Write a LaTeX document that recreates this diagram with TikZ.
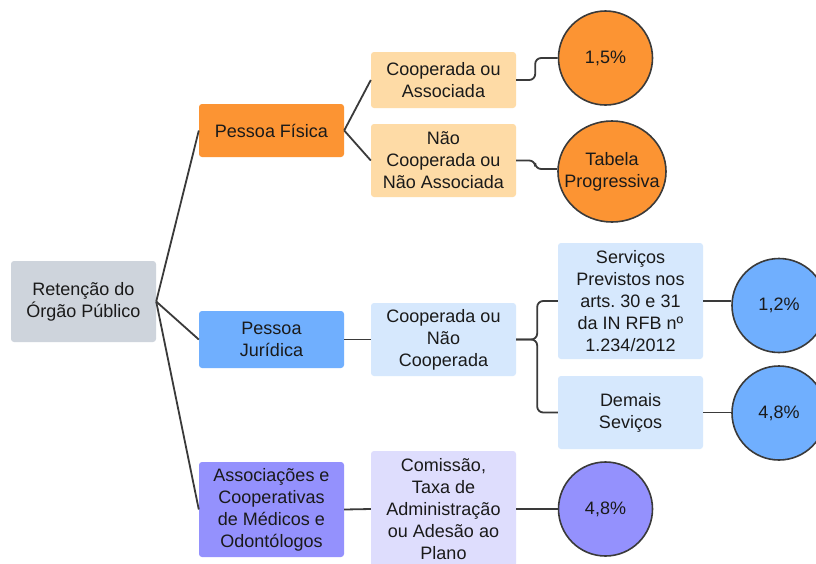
\documentclass[tikz,border=0pt]{standalone}
\usepackage{fontspec}
\setmainfont{Liberation Sans}
\usetikzlibrary{shapes.geometric}
\frenchspacing
\definecolor{cgray}{HTML}{CED4DC}
\definecolor{corange}{HTML}{FC9433}
\definecolor{clorange}{HTML}{FEDBA6}
\definecolor{cblue}{HTML}{70AFFE}
\definecolor{clblue}{HTML}{D6E8FD}
\definecolor{cpurple}{HTML}{9491FD}
\definecolor{clpurple}{HTML}{DEDDFD}
\definecolor{cline}{HTML}{3A3A3A}
\definecolor{ctext}{HTML}{1A1A1A}
\tikzset{
  box/.style={rectangle, rounded corners=3pt, minimum width=145pt, inner sep=0pt, align=center, text=ctext, font=\fontsize{18}{22}\selectfont},
  bubble/.style={circle, draw=cline, line width=1.6pt, minimum size=94pt, inner sep=0pt, align=center, text=ctext, font=\fontsize{18}{22}\selectfont},
  oval/.style={ellipse, draw=cline, line width=1.6pt, minimum width=108pt, minimum height=101pt, inner sep=0pt},
  label/.style={align=center, text=ctext, inner sep=0pt, font=\fontsize{18}{22}\selectfont},
  conn/.style={draw=cline, line width=1.8pt, rounded corners=6pt}
}
\begin{document}
\begin{tikzpicture}[x=1pt,y=-1pt]
\clip (0,0) rectangle (816,563);
\fill[white] (0,0) rectangle (816,563);
% level 0
\node[box, fill=cgray, minimum height=81pt] (root) at (83.5,301.5) {Retenção do\\Órgão Público};
% level 1
\node[box, fill=corange, minimum height=53pt] (pf) at (271.5,130.5) {Pessoa Física};
\node[box, fill=cblue, minimum height=57pt] (pj) at (271.5,339.5) {Pessoa\\Jurídica};
\node[box, fill=cpurple, minimum height=95pt] (as) at (271.5,509.5) {Associações e\\Cooperativas\\de Médicos e\\Odontólogos};
% level 2
\node[box, fill=clorange, minimum height=56pt] (ca) at (443.5,80) {Cooperada ou\\Associada};
\node[box, fill=clorange, minimum height=73pt] (nc) at (443.5,160.5) {Não\\Cooperada ou\\Não Associada};
\node[box, fill=clblue, minimum height=73pt] (cn) at (443.5,339.5) {Cooperada ou\\Não\\Cooperada};
\node[box, fill=clpurple, minimum height=116pt] (cm) at (443.5,509) {Comissão,\\Taxa de\\Administração\\ou Adesão ao\\Plano};
% level 3
\node[box, fill=clblue, minimum height=116pt] (sv) at (630.5,301) {Serviços\\Previstos nos\\arts. 30 e 31\\da IN RFB nº\\1.234/2012};
\node[box, fill=clblue, minimum height=73pt] (ds) at (630.5,412.5) {Demais\\Seviços};
% circles
\node[bubble, fill=corange] (c1) at (605.5,58) {1,5\%};
\node[oval, fill=corange] (c2) at (612,171.5) {};
\node[label] (c2t) at (c2.center) {Tabela\\Progressiva};
\node[bubble, fill=cblue] (c3) at (779,305.5) {1,2\%};
\node[bubble, fill=cblue] (c4) at (779,413) {4,8\%};
\node[bubble, fill=cpurple] (c5) at (605.5,509) {4,8\%};
% connectors
\draw[conn] (root.east) -- (pf.west);
\draw[conn] (root.east) -- (pj.west);
\draw[conn] (root.east) -- (as.west);
\draw[conn] (pf.east) -- (ca.west);
\draw[conn] (pf.east) -- (nc.west);
\draw[conn] (ca.east) -- ++(19,0) |- (c1.west);
\draw[conn] (nc.east) -- ++(19,0) |- ([yshift=2.5pt]c2.west);
\draw[conn] (pj.east) -- (cn.west);
\draw[conn] (cn.east) -- ++(21,0) |- (sv.west);
\draw[conn] (cn.east) -- ++(21,0) |- (ds.west);
\draw[conn] (sv.east) -- (sv.east -| c3.west);
\draw[conn] (ds.east) -- (ds.east -| c4.west);
\draw[conn] (as.east) -- (cm.west);
\draw[conn] (cm.east) -- (c5.west);
\end{tikzpicture}
\end{document}
